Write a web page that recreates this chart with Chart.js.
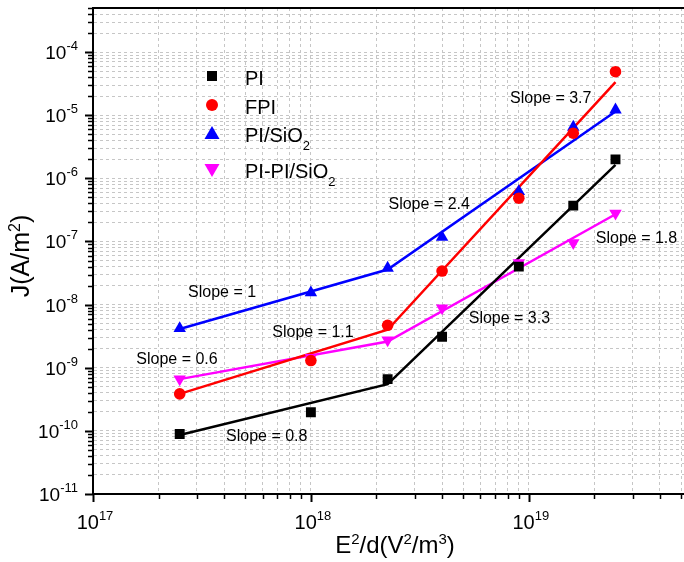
<!DOCTYPE html>
<html>
<head>
<meta charset="utf-8">
<script src="https://cdn.jsdelivr.net/npm/chart.js@4.4.0/dist/chart.umd.min.js"></script>
<style>
    html, body { margin: 0; padding: 0; background: #fff; overflow: hidden; }
    #wrap { width: 684px; height: 562px; overflow: hidden; }
</style>
</head>
<body>
<div id="wrap"><canvas id="jeChart" width="692" height="562"></canvas></div>
<script>
// E^2/d values (V^2/m^3)
const fieldValues = [2.5e17, 1e18, 2.25e18, 4e18, 9e18, 1.6e19, 2.5e19];

// Measured current density J (A/m^2)
const piValues = [8.9e-11, 1.97e-10, 6.6e-10, 3.1e-9, 4.0e-8, 3.7e-7, 2.0e-6];
const fpiValues = [3.85e-10, 1.3e-9, 4.7e-9, 3.4e-8, 4.85e-7, 5.2e-6, 4.9e-5];
const sio2Values = [4.2e-9, 1.55e-8, 3.8e-8, 1.17e-7, 6.2e-7, 6.5e-6, 1.22e-5];
const pipiValues = [6.6e-10, 1.45e-9, 2.75e-9, 8.8e-9, 4.6e-8, 9.5e-8, 2.8e-7];

// Two-segment fits (start, knee, end)
const fitX = [2.5e17, 2.25e18, 2.5e19];
const piFit = [8.6e-11, 5.5e-10, 1.64e-6];
const fpiFit = [3.85e-10, 4.0e-9, 3.35e-5];
const sio2Fit = [4.1e-9, 3.6e-8, 1.15e-5];
const pipiFit = [6.6e-10, 2.6e-9, 2.7e-7];

// Slope annotations (text, anchored at data coordinates)
const slopeTexts = ['Slope = 3.7', 'Slope = 2.4', 'Slope = 1.8', 'Slope = 3.3',
                    'Slope = 1', 'Slope = 1.1', 'Slope = 0.6', 'Slope = 0.8'];
const slopeX = [8.2e18, 2.27e18, 2.03e19, 5.3e18, 2.73e17, 6.65e17, 1.58e17, 4.08e17];
const slopeY = [1.82e-5, 3.8e-7, 1.1e-7, 5.9e-9, 1.53e-8, 3.56e-9, 1.33e-9, 8.0e-11];

// Series names and axis decades
const seriesNames = ['PI', 'FPI', 'PI/SiO2', 'PI-PI/SiO2'];
const xDecades = [17, 18, 19];
const yDecades = [-11, -10, -9, -8, -7, -6, -5, -4];

const X_MIN = 1e17, X_MAX = 5.2e19;
const Y_MIN = 1e-11, Y_MAX = 5e-4;

const FONT = '"Liberation Sans", Arial, Helvetica, sans-serif';
const colors = ['#000000', '#ff0000', '#0000ff', '#ff00ff'];

function toPoints(xs, ys) {
    return xs.map((x, i) => ({ x: x, y: ys[i] }));
}

// Rich text helpers (for superscripts / subscripts)
function richWidth(ctx, parts, size, small) {
    let w = 0;
    parts.forEach(p => {
        ctx.font = (p[1] === 0 ? size : small) + 'px ' + FONT;
        w += ctx.measureText(p[0]).width;
    });
    return w;
}

function drawRich(ctx, parts, x, y, size, small, shift) {
    let cx = x;
    parts.forEach(p => {
        ctx.font = (p[1] === 0 ? size : small) + 'px ' + FONT;
        const dy = p[1] === 1 ? -shift : (p[1] === -1 ? shift : 0);
        ctx.fillText(p[0], cx, y + dy);
        cx += ctx.measureText(p[0]).width;
    });
}

function logTicks(min, max) {
    const ticks = [];
    const e0 = Math.floor(Math.log10(min));
    const e1 = Math.ceil(Math.log10(max));
    for (let e = e0; e <= e1; e++) {
        for (let m = 1; m <= 9; m++) {
            const v = Number(m + 'e' + e);
            if (v >= min * 0.999 && v <= max * 1.001) ticks.push({ value: v });
        }
    }
    return ticks;
}

function isDecade(v) {
    const l = Math.log10(v);
    return Math.abs(l - Math.round(l)) < 1e-6;
}

// Draw a marker shape (legend)
function drawMarker(ctx, kind, x, y, color) {
    ctx.save();
    ctx.fillStyle = color;
    ctx.beginPath();
    if (kind === 0) {
        ctx.rect(x - 5, y - 5, 10, 10);
    } else if (kind === 1) {
        ctx.arc(x, y, 6, 0, Math.PI * 2);
    } else if (kind === 2) {
        ctx.moveTo(x, y - 7);
        ctx.lineTo(x + 7.5, y + 6);
        ctx.lineTo(x - 7.5, y + 6);
        ctx.closePath();
    } else {
        ctx.moveTo(x, y + 7);
        ctx.lineTo(x + 7.5, y - 6);
        ctx.lineTo(x - 7.5, y - 6);
        ctx.closePath();
    }
    ctx.fill();
    ctx.restore();
}

const decorPlugin = {
    id: 'decor',
    afterDatasetsDraw(chart) {
        const ctx = chart.ctx;
        const xs = chart.scales.x, ys = chart.scales.y;
        ctx.save();
        ctx.fillStyle = '#000';
        ctx.textAlign = 'left';
        ctx.textBaseline = 'middle';
        ctx.font = '16px ' + FONT;
        slopeTexts.forEach((t, i) => {
            ctx.fillText(t, xs.getPixelForValue(slopeX[i]), ys.getPixelForValue(slopeY[i]));
        });
        ctx.restore();
    },
    afterDraw(chart) {
        const ctx = chart.ctx;
        const area = chart.chartArea;
        const xs = chart.scales.x, ys = chart.scales.y;
        ctx.save();

        // top frame line
        ctx.strokeStyle = '#000';
        ctx.lineWidth = 2;
        ctx.beginPath();
        ctx.moveTo(area.left, area.top);
        ctx.lineTo(area.right, area.top);
        ctx.stroke();

        // tick marks
        ys.ticks.forEach(t => {
            const y = Math.round(ys.getPixelForValue(t.value)) + 0.5;
            const major = isDecade(t.value);
            ctx.lineWidth = major ? 2 : 1.5;
            ctx.beginPath();
            ctx.moveTo(area.left - (major ? 8 : 5), y);
            ctx.lineTo(area.left, y);
            ctx.stroke();
        });
        xs.ticks.forEach(t => {
            const x = Math.round(xs.getPixelForValue(t.value)) + 0.5;
            const major = isDecade(t.value);
            ctx.lineWidth = major ? 2 : 1.5;
            ctx.beginPath();
            ctx.moveTo(x, area.bottom);
            ctx.lineTo(x, area.bottom + (major ? 8 : 5));
            ctx.stroke();
        });

        // tick labels
        ctx.fillStyle = '#000';
        ctx.textAlign = 'left';
        ctx.textBaseline = 'alphabetic';
        yDecades.forEach(d => {
            const y = ys.getPixelForValue(Number('1e' + d));
            const parts = [['10', 0], [String(d), 1]];
            const w = richWidth(ctx, parts, 19, 13);
            drawRich(ctx, parts, 78 - w, y + 7, 19, 13, 9);
        });
        xDecades.forEach(d => {
            const x = xs.getPixelForValue(Number('1e' + d));
            const parts = [['10', 0], [String(d), 1]];
            const w = richWidth(ctx, parts, 20, 13);
            drawRich(ctx, parts, x + 2 - w / 2, area.bottom + 35, 20, 13, 9);
        });

        // axis titles
        const xTitle = [['E', 0], ['2', 1], ['/d(V', 0], ['2', 1], ['/m', 0], ['3', 1], [')', 0]];
        const xw = richWidth(ctx, xTitle, 24, 15);
        drawRich(ctx, xTitle, 395 - xw / 2, 553, 24, 15, 9);

        const yTitle = [['J(A/m', 0], ['2', 1], [')', 0]];
        ctx.save();
        ctx.translate(29, 256);
        ctx.rotate(-Math.PI / 2);
        const yw = richWidth(ctx, yTitle, 25, 16);
        drawRich(ctx, yTitle, -yw / 2, 0, 25, 16, 9);
        ctx.restore();

        // legend
        const rowsMarker = [76, 105, 133, 170];
        const rowsText = [85, 114, 142, 178];
        const legendParts = [
            [['PI', 0]],
            [['FPI', 0]],
            [['PI/SiO', 0], ['2', -1]],
            [['PI-PI/SiO', 0], ['2', -1]]
        ];
        seriesNames.forEach((name, i) => {
            drawMarker(ctx, i, 212, rowsMarker[i], colors[i]);
            ctx.fillStyle = '#000';
            drawRich(ctx, legendParts[i], 245, rowsText[i], 20, 13, 8);
        });

        ctx.restore();
    }
};

const markerStyles = ['rect', 'circle', 'triangle', 'triangle'];
const markerRadius = [7, 5.8, 7.2, 7.2];
const markerRotation = [0, 0, 0, 180];
const measured = [piValues, fpiValues, sio2Values, pipiValues];
const fits = [piFit, fpiFit, sio2Fit, pipiFit];

const datasets = [];
measured.forEach((vals, i) => {
    datasets.push({
        label: seriesNames[i],
        data: toPoints(fieldValues, vals),
        showLine: false,
        pointStyle: markerStyles[i],
        pointRadius: markerRadius[i],
        pointRotation: markerRotation[i],
        backgroundColor: colors[i],
        borderColor: colors[i],
        pointBorderWidth: 0
    });
});
fits.forEach((vals, i) => {
    datasets.push({
        label: seriesNames[i] + ' fit',
        data: toPoints(fitX, vals),
        showLine: true,
        borderColor: colors[i],
        borderWidth: 2.5,
        pointRadius: 0,
        tension: 0
    });
});

const gridOpts = {
    color: '#c6c6c6',
    lineWidth: 1,
    drawTicks: false
};

new Chart(document.getElementById('jeChart').getContext('2d'), {
    type: 'scatter',
    data: { datasets: datasets },
    options: {
        responsive: false,
        animation: false,
        devicePixelRatio: 1,
        layout: { padding: { left: 93, right: 0, top: 8, bottom: 68 } },
        plugins: {
            legend: { display: false },
            tooltip: { enabled: false }
        },
        scales: {
            x: {
                type: 'logarithmic',
                min: X_MIN,
                max: X_MAX,
                afterBuildTicks: s => { s.ticks = logTicks(X_MIN, X_MAX); },
                ticks: { display: false },
                grid: gridOpts,
                border: { display: true, color: '#000', width: 2, dash: [3, 3] }
            },
            y: {
                type: 'logarithmic',
                min: Y_MIN,
                max: Y_MAX,
                afterBuildTicks: s => { s.ticks = logTicks(Y_MIN, Y_MAX); },
                ticks: { display: false },
                grid: gridOpts,
                border: { display: true, color: '#000', width: 2, dash: [3, 3] }
            }
        }
    },
    plugins: [decorPlugin]
});
</script>
</body>
</html>
